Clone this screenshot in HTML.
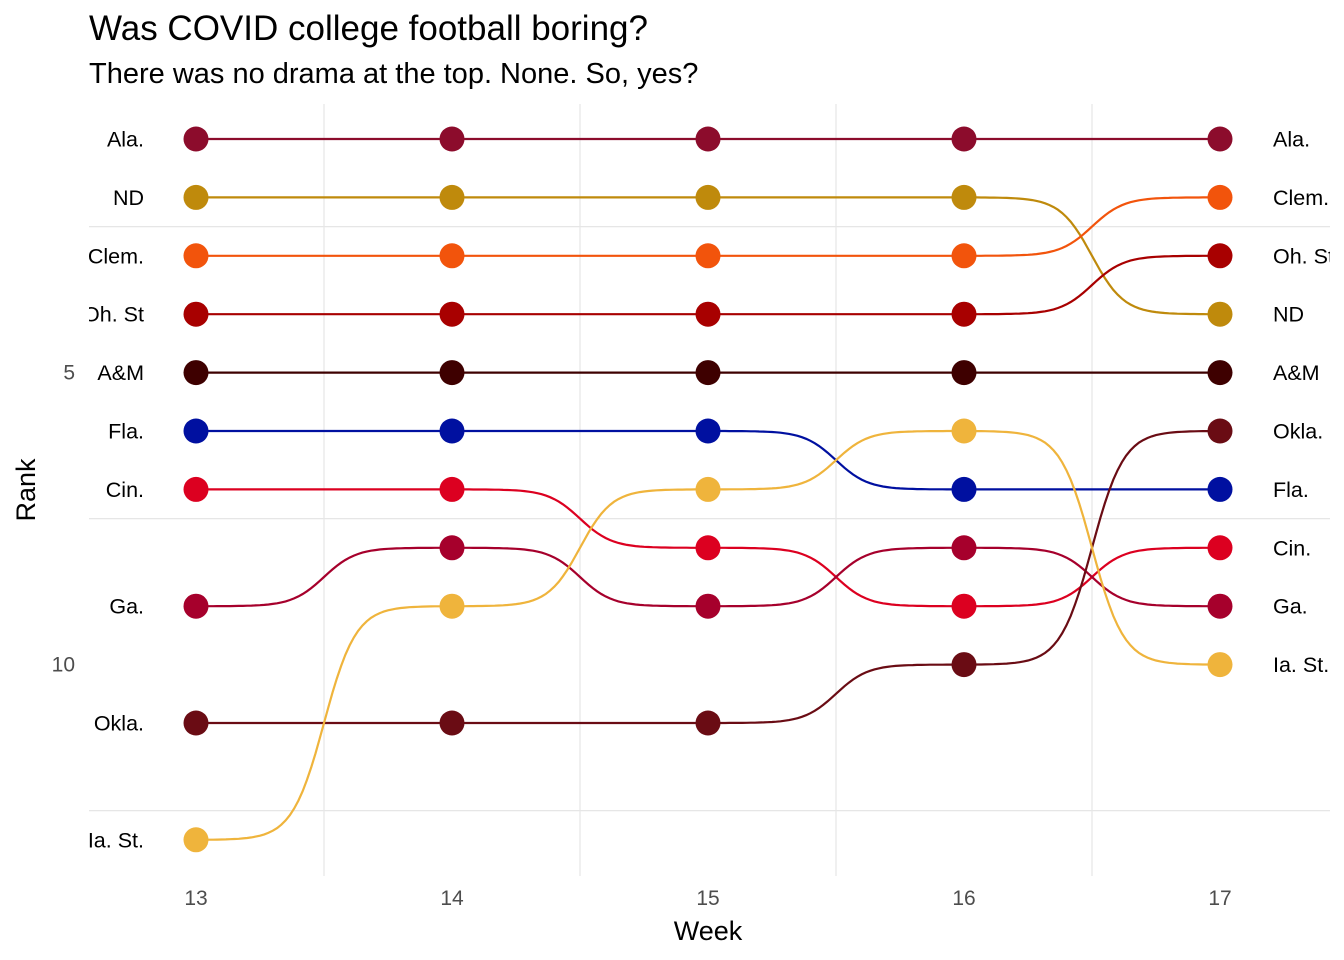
<!DOCTYPE html>
<html><head><meta charset="utf-8"><style>
body{margin:0;background:#fff;}
svg{display:block;font-family:"Liberation Sans",sans-serif;}
</style></head><body>
<svg id="chart" width="1344" height="960">
<defs><clipPath id="pc"><rect x="89" y="0" width="1241" height="960"/></clipPath></defs>
<text x="89" y="40" font-size="35" fill="#000">Was COVID college football boring?</text>
<text x="89" y="83" font-size="29" fill="#000">There was no drama at the top. None. So, yes?</text>
<g id="grid"></g>
<g id="series" clip-path="url(#pc)"></g>
<text x="708" y="940" font-size="27" text-anchor="middle" fill="#000">Week</text>
<text transform="translate(35,490) rotate(-90)" font-size="27" text-anchor="middle" fill="#000">Rank</text>
</svg>
<script>
const weeks=[13,14,15,16,17];
const teams=["Ala.","ND","Clem.","Oh. St","A&M","Fla.","Cin.","Ga.","Okla.","Ia. St."];
const ranks=[
[1,1,1,1,1],[2,2,2,2,4],[3,3,3,3,2],[4,4,4,4,3],[5,5,5,5,5],
[6,6,6,7,7],[7,7,8,9,8],[9,8,9,8,9],[11,11,11,10,6],[13,9,7,6,10]];
const colors=["#8c0c2c","#bf8a0c","#f2540c","#a80000","#3e0000","#0010a0","#dc0020","#a6002c","#6a0c14","#efb43c"];
const yTicks=[5,10];
const xTicks=[13,14,15,16,17];
const NS="http://www.w3.org/2000/svg";
const X=w=>196+(w-13)*256;
const Y=r=>139+(r-1)*58.4;
function mk(t,a,p){const e=document.createElementNS(NS,t);for(const k in a)e.setAttribute(k,a[k]);p.appendChild(e);return e;}
const grid=document.getElementById('grid'),ser=document.getElementById('series'),svg=document.getElementById('chart');
[13.5,14.5,15.5,16.5].forEach(w=>{const l=mk('line',{x1:X(w),x2:X(w),y1:104,y2:876,stroke:'#e6e6e6','stroke-width':1.2},grid);

});
[2.5,7.5,12.5].forEach(r=>{const l=mk('line',{x1:89,x2:1330,y1:Y(r),y2:Y(r),stroke:'#e6e6e6','stroke-width':1.2},grid);

});
xTicks.forEach(w=>{const t=mk('text',{x:X(w),y:905,'font-size':21,'text-anchor':'middle',fill:'#4d4d4d'},svg);t.textContent=w;

});
yTicks.forEach(r=>{const t=mk('text',{x:75,y:Y(r)+7,'font-size':21,'text-anchor':'end',fill:'#4d4d4d'},svg);t.textContent=r;

});
const sig=t=>{const k=16,a=1/(1+Math.exp(k/2)),b=1/(1+Math.exp(-k/2));return (1/(1+Math.exp(-k*(t-0.5)))-a)/(b-a);};
teams.forEach((tm,i)=>{
  const g=mk('g',{},ser);
  
  
  let d='';
  for(let j=0;j<weeks.length-1;j++){
    for(let s=0;s<=60;s++){const t=s/60;const x=X(weeks[j])+t*256;const y=Y(ranks[i][j]+(ranks[i][j+1]-ranks[i][j])*sig(t));
      d+=(d?'L':'M')+x.toFixed(1)+','+y.toFixed(1);}
  }
  const p=mk('path',{d:d,fill:'none',stroke:colors[i],'stroke-width':2.2},g);
  
  
  weeks.forEach((w,j)=>{const c=mk('circle',{cx:X(w),cy:Y(ranks[i][j]),r:12.5,fill:colors[i]},g);
    
    });
  const l=mk('text',{x:144,y:Y(ranks[i][0])+7.5,'font-size':21.5,'text-anchor':'end',fill:'#000'},g);l.textContent=tm;
  
  
  const r=mk('text',{x:1273,y:Y(ranks[i][4])+7.5,'font-size':21.5,fill:'#000'},g);r.textContent=tm;
  
  
});
</script>
</body></html>
